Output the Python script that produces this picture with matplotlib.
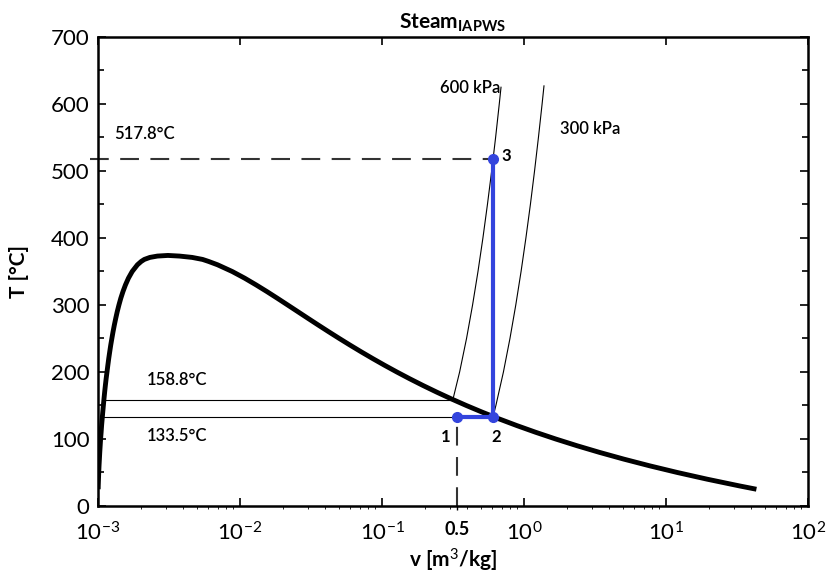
import matplotlib
matplotlib.use('Agg')
import matplotlib.pyplot as plt
from matplotlib.ticker import FixedLocator, MultipleLocator, NullLocator, LogFormatterMathtext

plt.rcParams['font.family'] = ['Lato', 'DejaVu Sans']
plt.rcParams['mathtext.fontset'] = 'custom'
plt.rcParams['mathtext.rm'] = 'Lato'
plt.rcParams['mathtext.it'] = 'Lato:italic'
plt.rcParams['mathtext.bf'] = 'Lato:bold'

# saturation dome (T in degC, specific volumes in m3/kg)
sat_T = [25, 30, 40, 50, 60, 70, 80, 90, 100, 110, 120, 130, 140, 150, 160, 170,
         180, 190, 200, 210, 220, 230, 240, 250, 260, 270, 280, 290, 300, 310,
         320, 330, 340, 350, 360, 365, 368, 371, 373, 373.95]
sat_vf = [0.001003, 0.001004, 0.001008, 0.001012, 0.001017, 0.001023, 0.001029,
          0.001036, 0.001043, 0.001052, 0.001060, 0.001070, 0.001080, 0.001091,
          0.001102, 0.001114, 0.001127, 0.001141, 0.001157, 0.001173, 0.001190,
          0.001209, 0.001229, 0.001252, 0.001276, 0.001303, 0.001333, 0.001366,
          0.001404, 0.001447, 0.001499, 0.001561, 0.001638, 0.001741, 0.001895,
          0.002016, 0.00212, 0.00232, 0.00262, 0.003106]
sat_vg = [43.340, 32.879, 19.515, 12.026, 7.6672, 5.0395, 3.4052, 2.3591, 1.6720,
          1.2095, 0.89133, 0.66808, 0.50850, 0.39248, 0.30680, 0.24259, 0.19384,
          0.15636, 0.12721, 0.10429, 0.08609, 0.07150, 0.05970, 0.05008, 0.04217,
          0.03562, 0.03015, 0.02556, 0.02166, 0.01834, 0.01548, 0.01298, 0.01079,
          0.008811, 0.006950, 0.006009, 0.00545, 0.00460, 0.00375, 0.003106]

# isobars
p600_v = [0.3157, 0.35212, 0.39390, 0.43442, 0.47428, 0.51374, 0.55284, 0.59200,
          0.63111, 0.66976, 0.689]
p600_T = [158.8, 200, 250, 300, 350, 400, 450, 500, 550, 600, 625]
p300_v = [0.6058, 0.63402, 0.71643, 0.79645, 0.87535, 0.95375, 1.03151, 1.10941,
          1.18669, 1.26389, 1.34136, 1.383]
p300_T = [133.5, 150, 200, 250, 300, 350, 400, 450, 500, 550, 600, 627]

# saturation temperatures and liquid volumes for the two pressures
T_sat600, vf600 = 158.8, 0.001101
T_sat300, vf300 = 133.5, 0.001073

# process states 1, 2, 3
state_v = [0.34, 0.6058, 0.6058]
state_T = [133.5, 133.5, 517.8]

blue = '#3344dd'

fig = plt.figure(figsize=(8.27, 5.75), dpi=100)
ax = fig.add_axes([0.1185, 0.12, 0.8585, 0.8157])

# dome
ax.plot(sat_vf + sat_vg[::-1], sat_T + sat_T[::-1], color='black', lw=3.5,
        solid_capstyle='butt', solid_joinstyle='round', zorder=3)

# isobars
ax.plot(p600_v, p600_T, color='black', lw=0.8)
ax.plot(p300_v, p300_T, color='black', lw=0.8)
ax.plot([vf600, p600_v[0]], [T_sat600, T_sat600], color='black', lw=0.8)
ax.plot([vf300, state_v[0]], [T_sat300, T_sat300], color='black', lw=0.8)

# dashed guides
ax.plot([0.00088, state_v[2]], [state_T[2], state_T[2]], color='#333333', lw=1.5,
        dashes=(9, 5.5), clip_on=False)
ax.plot([state_v[0], state_v[0]], [0, state_T[0]], color='#333333', lw=1.5,
        dashes=(9, 5.5))

# process path
ax.plot(state_v, state_T, color=blue, lw=3, marker='o', markersize=7, zorder=5)

# labels
ax.text(0.0013, 548, '517.8°C', fontsize=12, fontweight='semibold')
ax.text(0.0022, 180, '158.8°C', fontsize=12, fontweight='semibold')
ax.text(0.0022, 97, '133.5°C', fontsize=12, fontweight='semibold')
ax.text(0.255, 617, '600 kPa', fontsize=12, fontweight='semibold')
ax.text(1.8, 555, '300 kPa', fontsize=12, fontweight='semibold')
ax.text(0.26, 95, '1', fontsize=12, fontweight='bold')
ax.text(0.59, 95, '2', fontsize=12, fontweight='bold')
ax.text(0.69, 515, '3', fontsize=12, fontweight='bold')

ax.set_xscale('log')
ax.set_xlim(1e-3, 1e2)
ax.set_ylim(0, 700)

ax.xaxis.set_major_locator(FixedLocator([1e-3, 1e-2, 1e-1, 1e0, 1e1, 1e2]))
ax.xaxis.set_major_formatter(LogFormatterMathtext())
ax.xaxis.set_minor_locator(NullLocator())
ax.yaxis.set_major_locator(MultipleLocator(100))
ax.yaxis.set_minor_locator(MultipleLocator(50))
ax.tick_params(which='both', direction='in', top=True, right=True, labelsize=16,
               width=1.2)
ax.tick_params(axis='x', pad=11)
ax.tick_params(axis='y', pad=6)
ax.tick_params(which='major', length=6)
ax.tick_params(which='minor', length=4)

# extra tick for state 1
sec = ax.secondary_xaxis('bottom')
sec.set_xticks([state_v[0]])
sec.set_xticklabels(['0.5'], fontsize=13, fontweight='bold')
sec.tick_params(direction='out', length=3, width=1, pad=8)
sec.spines['bottom'].set_visible(False)

for s in ax.spines.values():
    s.set_linewidth(1.8)

ax.set_xlabel('v [m$^3$/kg]', fontsize=15, fontweight='bold', labelpad=2)
ax.set_ylabel('T [°C]', fontsize=15, fontweight='bold', labelpad=16)
ax.set_title(r'Steam$_{\mathbf{IAPWS}}$', fontsize=15, fontweight='bold', pad=6)

fig.savefig('out.png', dpi=100)
